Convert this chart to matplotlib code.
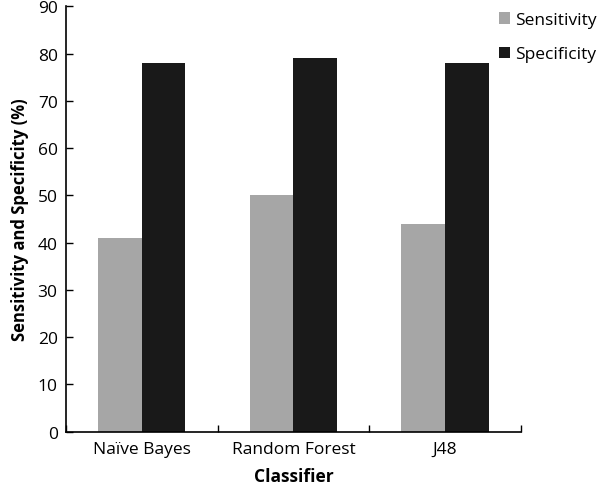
import numpy as np
import matplotlib
matplotlib.use("Agg")
import matplotlib.pyplot as plt

# Data
classifiers = ["Naïve Bayes", "Random Forest", "J48"]
sensitivity = [41, 50, 44]
specificity = [78, 79, 78]

plt.rcParams["font.family"] = ["Open Sans", "DejaVu Sans"]

fig = plt.figure(figsize=(6, 4.89), dpi=100)
ax = fig.add_axes([0.11, 0.1155, 0.758, 0.8695])

x = np.arange(len(classifiers))
w = 0.287
ax.bar(x - w / 2, sensitivity, w, color="#a6a6a6", label="Sensitivity")
ax.bar(x + w / 2, specificity, w, color="#191919", label="Specificity")

ax.set_xlim(-0.5, len(classifiers) - 0.5)
ax.set_ylim(0, 90)
ax.set_yticks(range(0, 91, 10))
ax.set_xticks(x)
ax.set_xticklabels(classifiers)
ax.set_xticks(np.arange(-0.5, len(classifiers), 1), minor=True)

ax.tick_params(axis="x", which="major", length=0, labelsize=12.5, pad=7)
ax.tick_params(axis="x", which="minor", direction="in", length=5, width=1)
ax.tick_params(axis="y", direction="in", length=5, width=1, labelsize=12.5, pad=6)

for s in ["top", "right"]:
    ax.spines[s].set_visible(False)
for s in ["left", "bottom"]:
    ax.spines[s].set_linewidth(1.2)

ax.set_xlabel("Classifier", fontweight="bold", fontsize=12.5, labelpad=7)
ax.set_ylabel("Sensitivity and Specificity (%)", fontweight="bold", fontsize=12, labelpad=6)

fig.legend(loc="upper left", bbox_to_anchor=(0.805, 1.005), frameon=False,
           fontsize=12.5, handlelength=0.65, handleheight=0.65, handletextpad=0.3,
           labelspacing=1.05)

fig.savefig("out.png", dpi=100)
